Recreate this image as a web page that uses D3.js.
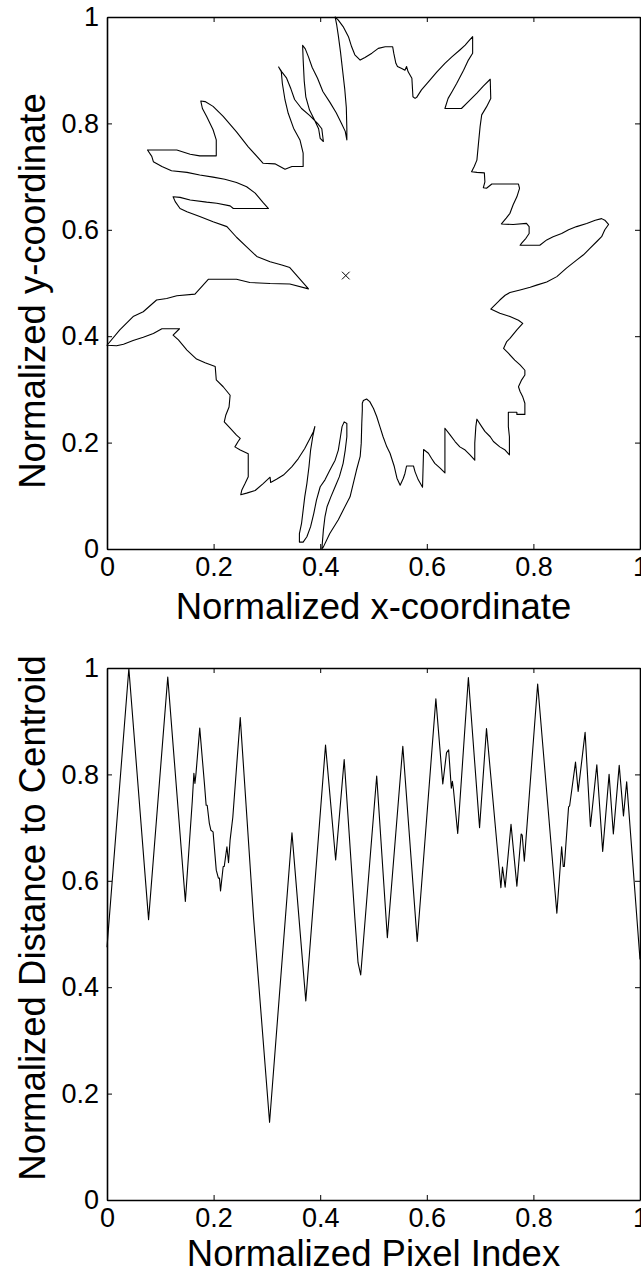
<!DOCTYPE html>
<html><head><meta charset="utf-8">
<script src="https://cdn.jsdelivr.net/npm/d3@7"></script>
<style>
body{margin:0;background:#fff}
svg{display:block}
text{font-family:"Liberation Sans",Arial,Helvetica,sans-serif;fill:#000}
</style>
</head><body>
<svg id="chart" width="641" height="1274"></svg>
<script>
// ---- data ----
const tickValues = [0, 0.2, 0.4, 0.6, 0.8, 1];
const tickLabels = ["0", "0.2", "0.4", "0.6", "0.8", "1"];
const topXTitle = "Normalized x-coordinate";
const topYTitle = "Normalized y-coordinate";
const botXTitle = "Normalized Pixel Index";
const botYTitle = "Normalized Distance to Centroid";
const centroid = [0.448, 0.514];

// contour, traced clockwise (normalized x, normalized y)
const contour = [
[0.487,0.282],[0.481,0.279],[0.479,0.274],[0.479,0.261],[0.478,0.236],[0.477,0.199],[0.475,0.174],[0.468,0.148],[0.462,0.123],[0.456,0.098],[0.443,0.073],[0.434,0.055],[0.418,0.029],[0.406,0.004],[0.403,0.0],
[0.404,0.011],[0.406,0.036],[0.409,0.061],[0.413,0.080],[0.420,0.098],[0.428,0.117],[0.436,0.136],[0.443,0.161],[0.447,0.186],[0.450,0.211],[0.450,0.236],[0.445,0.239],
[0.441,0.230],[0.438,0.211],[0.434,0.186],[0.428,0.167],[0.418,0.148],[0.409,0.130],[0.400,0.117],[0.393,0.092],[0.388,0.067],[0.382,0.042],[0.375,0.023],[0.368,0.013],[0.361,0.013],
[0.361,0.029],[0.365,0.048],[0.368,0.073],[0.371,0.098],[0.375,0.123],[0.379,0.155],[0.382,0.186],[0.386,0.211],[0.390,0.230],
[0.387,0.220],[0.381,0.208],[0.371,0.189],[0.359,0.170],[0.347,0.155],[0.331,0.139],[0.318,0.131],[0.307,0.125],[0.306,0.135],[0.293,0.123],[0.278,0.110],[0.262,0.105],[0.251,0.102],
[0.253,0.111],[0.259,0.123],[0.265,0.136],[0.265,0.179],[0.250,0.186],[0.240,0.192],[0.246,0.202],[0.250,0.208],[0.243,0.214],[0.231,0.227],[0.220,0.239],[0.223,0.252],[0.229,0.267],[0.231,0.289],[0.218,0.305],[0.205,0.318],[0.203,0.343],[0.184,0.350],[0.168,0.357],[0.150,0.374],[0.134,0.393],[0.124,0.402],[0.136,0.414],[0.103,0.414],[0.087,0.405],[0.068,0.398],[0.049,0.392],[0.031,0.385],[0.018,0.382],[0.0,0.383],
[0.024,0.412],[0.049,0.437],[0.068,0.446],[0.093,0.468],[0.112,0.471],[0.131,0.476],[0.165,0.479],[0.190,0.507],[0.243,0.507],[0.268,0.501],[0.306,0.499],[0.343,0.498],[0.378,0.489],
[0.343,0.529],[0.328,0.534],[0.306,0.540],[0.281,0.550],[0.262,0.568],[0.243,0.586],[0.225,0.606],[0.199,0.615],[0.174,0.625],[0.150,0.634],[0.137,0.640],[0.128,0.653],[0.124,0.662],
[0.137,0.661],[0.156,0.656],[0.187,0.652],[0.206,0.650],[0.231,0.645],[0.237,0.640],[0.303,0.640],
[0.293,0.651],[0.278,0.669],[0.262,0.681],[0.243,0.689],[0.221,0.695],[0.199,0.699],[0.174,0.703],[0.150,0.708],[0.121,0.711],[0.103,0.719],[0.087,0.728],[0.084,0.738],[0.076,0.750],
[0.131,0.750],[0.156,0.742],[0.174,0.739],[0.205,0.739],[0.205,0.769],[0.199,0.788],[0.187,0.813],[0.179,0.828],[0.176,0.842],
[0.184,0.841],[0.199,0.832],[0.218,0.813],[0.243,0.784],[0.265,0.756],[0.293,0.725],[0.315,0.724],[0.334,0.714],[0.347,0.719],[0.368,0.719],
[0.368,0.744],[0.362,0.769],[0.350,0.791],[0.340,0.819],[0.334,0.844],[0.329,0.875],[0.327,0.897],[0.322,0.906],
[0.328,0.897],[0.337,0.885],[0.345,0.865],[0.352,0.845],[0.365,0.828],[0.380,0.815],[0.395,0.800],[0.403,0.790],[0.406,0.766],
[0.400,0.772],[0.397,0.790],[0.390,0.805],[0.380,0.825],[0.373,0.850],[0.370,0.880],[0.368,0.920],[0.367,0.947],
[0.372,0.940],[0.378,0.925],[0.385,0.905],[0.395,0.885],[0.405,0.860],[0.418,0.840],[0.430,0.820],[0.440,0.800],[0.447,0.785],[0.450,0.769],
[0.450,0.790],[0.449,0.830],[0.446,0.865],[0.442,0.900],[0.438,0.935],[0.434,0.965],[0.431,0.985],[0.428,1.0],
[0.434,0.994],[0.443,0.982],[0.453,0.963],[0.459,0.944],[0.465,0.929],[0.475,0.919],[0.484,0.924],[0.497,0.932],[0.509,0.941],[0.522,0.944],[0.536,0.944],[0.538,0.932],[0.542,0.913],[0.545,0.907],[0.553,0.903],[0.559,0.900],[0.562,0.907],[0.565,0.897],[0.572,0.885],[0.574,0.850],[0.578,0.847],[0.581,0.849],[0.590,0.863],[0.603,0.878],[0.619,0.897],[0.634,0.913],[0.647,0.925],[0.662,0.938],[0.672,0.947],[0.678,0.954],[0.686,0.963],
[0.686,0.932],[0.678,0.919],[0.669,0.900],[0.656,0.875],[0.647,0.859],[0.640,0.847],[0.634,0.828],[0.665,0.828],[0.678,0.841],[0.694,0.857],[0.706,0.870],[0.719,0.883],
[0.720,0.847],[0.712,0.831],[0.703,0.816],[0.700,0.794],[0.697,0.763],[0.694,0.731],[0.689,0.719],[0.684,0.709],[0.694,0.708],[0.708,0.707],[0.709,0.690],[0.706,0.679],[0.712,0.678],[0.722,0.686],[0.772,0.686],[0.774,0.678],[0.769,0.662],[0.762,0.647],[0.756,0.631],[0.749,0.622],[0.740,0.611],[0.762,0.610],[0.787,0.612],[0.792,0.606],[0.792,0.593],[0.786,0.584],[0.778,0.575],[0.775,0.571],
[0.812,0.571],[0.825,0.581],[0.837,0.587],[0.853,0.593],[0.866,0.600],[0.881,0.606],[0.900,0.612],[0.916,0.618],[0.928,0.621],[0.934,0.618],[0.941,0.610],[0.934,0.600],[0.928,0.587],[0.919,0.578],[0.906,0.565],[0.894,0.553],[0.881,0.543],[0.862,0.528],[0.844,0.512],[0.825,0.502],[0.806,0.496],[0.794,0.492],[0.775,0.487],[0.756,0.482],[0.747,0.477],[0.737,0.468],[0.728,0.459],[0.720,0.451],
[0.737,0.443],[0.756,0.437],[0.772,0.430],[0.780,0.424],[0.769,0.412],[0.756,0.396],[0.750,0.390],[0.744,0.377],[0.753,0.368],[0.765,0.355],[0.775,0.346],[0.784,0.336],[0.784,0.327],[0.778,0.318],[0.772,0.305],[0.775,0.296],[0.780,0.286],[0.784,0.274],[0.784,0.253],[0.769,0.253],[0.769,0.257],[0.753,0.257],[0.753,0.230],[0.755,0.211],[0.755,0.177],
[0.747,0.186],[0.737,0.192],[0.725,0.202],[0.719,0.211],[0.709,0.221],[0.703,0.230],[0.694,0.244],[0.692,0.230],[0.690,0.199],[0.690,0.167],
[0.681,0.177],[0.672,0.186],[0.662,0.192],[0.653,0.202],[0.644,0.214],[0.634,0.227],[0.634,0.143],
[0.625,0.152],[0.615,0.161],[0.609,0.170],[0.603,0.180],[0.594,0.187],[0.592,0.116],[0.584,0.130],[0.578,0.145],[0.575,0.156],[0.562,0.156],[0.559,0.142],[0.556,0.133],[0.550,0.120],
[0.544,0.133],[0.539,0.155],[0.531,0.180],[0.525,0.192],[0.518,0.211],[0.512,0.230],[0.506,0.249],[0.500,0.264],[0.493,0.277],[0.487,0.282]
];

// distance signature (normalized pixel index, normalized distance)
const signature = [
[0,0.475],[0.041,0.999],[0.078,0.527],[0.114,0.983],[0.147,0.561],[0.160,0.750],[0.163,0.802],[0.165,0.783],[0.167,0.802],[0.174,0.887],[0.183,0.780],[0.186,0.742],[0.188,0.742],[0.192,0.708],[0.195,0.695],[0.199,0.692],[0.205,0.620],[0.209,0.605],[0.211,0.605],[0.213,0.581],[0.218,0.627],[0.220,0.627],[0.225,0.664],[0.228,0.634],[0.231,0.677],[0.236,0.719],[0.250,0.907],[0.275,0.530],[0.305,0.146],[0.347,0.690],[0.373,0.374],[0.410,0.855],[0.429,0.639],[0.445,0.828],[0.465,0.530],[0.471,0.446],[0.476,0.423],[0.506,0.797],[0.526,0.493],[0.555,0.853],[0.582,0.486],[0.617,0.942],[0.630,0.782],[0.637,0.841],[0.641,0.846],[0.646,0.774],[0.648,0.787],[0.650,0.772],[0.658,0.689],[0.678,0.982],[0.699,0.700],[0.712,0.886],[0.739,0.587],[0.742,0.626],[0.747,0.588],[0.758,0.706],[0.769,0.590],[0.777,0.688],[0.779,0.686],[0.783,0.637],[0.808,0.970],[0.844,0.539],[0.853,0.664],[0.856,0.627],[0.858,0.627],[0.866,0.739],[0.868,0.741],[0.879,0.823],[0.884,0.768],[0.897,0.879],[0.907,0.702],[0.919,0.818],[0.930,0.655],[0.942,0.800],[0.950,0.688],[0.961,0.817],[0.969,0.722],[0.975,0.786],[1.0,0.452]
];

// ---- layout ----
const svg = d3.select("#chart");
const tickFont = 27, titleFont = 36.5;

const panels = [
  {x: d3.scaleLinear().domain([0,1]).range([107,640]),
   y: d3.scaleLinear().domain([0,1]).range([549,17]),
   xt: topXTitle, yt: topYTitle, xtY: 619, ytY: 291},
  {x: d3.scaleLinear().domain([0,1]).range([107,640]),
   y: d3.scaleLinear().domain([0,1]).range([1200,668]),
   xt: botXTitle, yt: botYTitle, xtY: 1266, ytY: 918}
];

const fmt = d => tickLabels[tickValues.indexOf(d)];

function drawAxes(g, p){
  const {x, y} = p;
  const a1 = g.append("g").attr("transform",`translate(0,${y(0)})`)
    .call(d3.axisBottom(x).tickValues(tickValues).tickFormat(fmt).tickSizeInner(-5).tickSizeOuter(0).tickPadding(8));
  const a2 = g.append("g").attr("transform",`translate(${x(0)},0)`)
    .call(d3.axisLeft(y).tickValues(tickValues).tickFormat(fmt).tickSizeInner(-5).tickSizeOuter(0).tickPadding(8));
  const a3 = g.append("g").attr("transform",`translate(0,${y(1)})`)
    .call(d3.axisTop(x).tickValues(tickValues).tickFormat(()=>"").tickSizeInner(-5).tickSizeOuter(0));
  const a4 = g.append("g").attr("transform",`translate(${x(1)},0)`)
    .call(d3.axisRight(y).tickValues(tickValues).tickFormat(()=>"").tickSizeInner(-5).tickSizeOuter(0));
  [a1,a2,a3,a4].forEach(a=>{
    a.select(".domain").attr("stroke","#000").attr("stroke-width",1.6);
    a.selectAll(".tick line").attr("stroke","#000").attr("stroke-width",1);
    a.selectAll(".tick text").attr("font-size",tickFont).attr("fill","#000")
      .attr("font-family",'"Liberation Sans",Arial,Helvetica,sans-serif');
  });
  // titles
  g.append("text").attr("x",(x.range()[0]+x.range()[1])/2).attr("y",p.xtY)
    .attr("text-anchor","middle").attr("font-size",titleFont).text(p.xt);
  g.append("text").attr("transform",`translate(45,${p.ytY}) rotate(-90)`)
    .attr("text-anchor","middle").attr("font-size",titleFont).text(p.yt);
}

// top panel: contour
const p0 = panels[0];
const g0 = svg.append("g");
g0.append("path").datum(contour)
  .attr("d", d3.line().x(d=>p0.x(d[0])).y(d=>p0.y(d[1])).curve(d3.curveLinearClosed))
  .attr("fill","none").attr("stroke","#000").attr("stroke-width",1.1).attr("stroke-linejoin","round");
const timesType = d3.symbolTimes || d3.symbolX || d3.symbolCross;
g0.append("path")
  .attr("transform",`translate(${p0.x(centroid[0])},${p0.y(centroid[1])})`)
  .attr("d", d3.symbol().type(timesType).size(40)())
  .attr("fill","none").attr("stroke","#000").attr("stroke-width",1);
drawAxes(g0, p0);

// bottom panel: signature
const p1 = panels[1];
const g1 = svg.append("g");
g1.append("path").datum(signature)
  .attr("d", d3.line().x(d=>p1.x(d[0])).y(d=>p1.y(d[1])))
  .attr("fill","none").attr("stroke","#000").attr("stroke-width",1.1).attr("stroke-linejoin","round");
drawAxes(g1, p1);
</script>
</body></html>
